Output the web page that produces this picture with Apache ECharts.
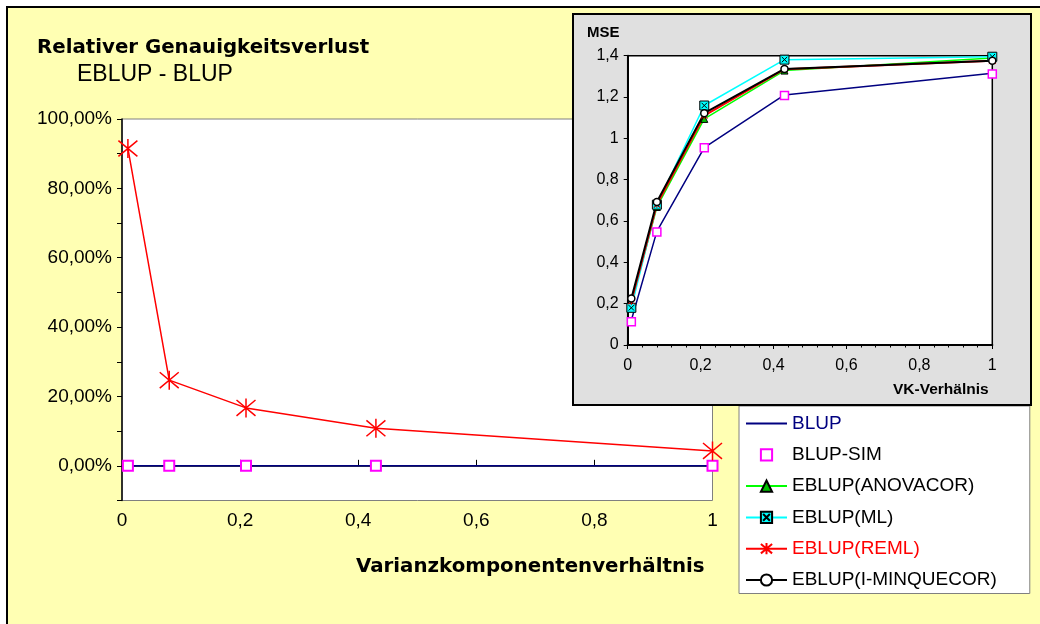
<!DOCTYPE html>
<head>
    <meta charset="utf-8">
    <title>Relativer Genauigkeitsverlust</title>
    <script src="https://cdn.jsdelivr.net/npm/echarts@6/dist/echarts.min.js"></script>
    <style>
        body { margin: 0; }
        #main { width: 1040px; height: 624px; }
    </style>
</head>
<body>
    <div id="main"></div>
    <script>
        // x values (Varianzkomponentenverhältnis)
        var vkRatio = [0.01, 0.08, 0.21, 0.43, 1];

        // main chart: relative loss EBLUP - BLUP in %
        var lossBlup = [0, 0, 0, 0, 0];
        var lossBlupSim = [0, 0, 0, 0, 0];
        var lossReml = [91.5, 24.7, 16.7, 10.8, 4.3];

        // inset: MSE
        var mseBlup = [0.12, 0.55, 0.955, 1.21, 1.315];
        var mseBlupSim = [0.112, 0.547, 0.954, 1.207, 1.312];
        var mseAnova = [0.2, 0.668, 1.094, 1.328, 1.389];
        var mseMl = [0.18, 0.679, 1.159, 1.381, 1.395];
        var mseReml = [0.21, 0.68, 1.11, 1.335, 1.375];
        var mseMinque = [0.225, 0.692, 1.122, 1.336, 1.376];

        var FONT = 'Liberation Sans, Arial, sans-serif';
        var WIDE = 'DejaVu Sans, Verdana, sans-serif';
        var starPath = 'path://M0,1L10,11M10,1L0,11M5,0L5,12';
        var mlPath = 'path://M0,0L10,0L10,10L0,10Z M2,2L8,8 M8,2L2,8';

        function pairs(xs, ys) {
            return xs.map(function (x, i) { return [x, ys[i]]; });
        }
        function deNum(v) {
            return String(Math.round(v * 10) / 10).replace('.', ',');
        }

        var myChart = echarts.init(document.getElementById('main'));

        var option = {
            animation: false,
            backgroundColor: '#fff',
            graphic: [
                {
                    type: 'rect', z: -10, silent: true,
                    shape: { x: 7, y: 7, width: 1100, height: 700 },
                    style: { fill: '#FFFFB3', stroke: '#000', lineWidth: 2 }
                },
                {
                    type: 'rect', z: 10, silent: true,
                    shape: { x: 573, y: 14, width: 458, height: 391 },
                    style: { fill: '#E0E0E0', stroke: '#000', lineWidth: 2 }
                }
            ],
            title: [
                { text: 'Relativer Genauigkeitsverlust', left: 37, top: 38, padding: 0,
                  textStyle: { fontFamily: WIDE, fontSize: 19.8, fontWeight: 'bold', color: '#000' } },
                { text: 'EBLUP - BLUP', left: 77, top: 63, padding: 0,
                  textStyle: { fontFamily: FONT, fontSize: 23, fontWeight: 'normal', color: '#000' } },
                { text: 'Varianzkomponentenverhältnis', left: 356, top: 557, padding: 0,
                  textStyle: { fontFamily: WIDE, fontSize: 19.8, fontWeight: 'bold', color: '#000' } },
                { text: 'MSE', left: 587, top: 25, padding: 0, z: 14,
                  textStyle: { fontFamily: FONT, fontSize: 15, fontWeight: 'bold', color: '#000' } },
                { text: 'VK-Verhälnis', left: 893, top: 382, padding: 0, z: 14,
                  textStyle: { fontFamily: FONT, fontSize: 15.5, fontWeight: 'bold', color: '#000' } }
            ],
            legend: {
                orient: 'vertical',
                left: 739, top: 406,
                padding: [8, 33, 4, 6],
                itemWidth: 41, itemHeight: 14, itemGap: 12.3,
                backgroundColor: '#fff', borderColor: '#808080', borderWidth: 1,
                textStyle: { fontFamily: FONT, fontSize: 19, color: '#000' },
                data: [
                    { name: 'BLUP', itemStyle: { opacity: 0 }, textStyle: { color: '#000080' } },
                    { name: 'BLUP-SIM' },
                    { name: 'EBLUP(ANOVACOR)' },
                    { name: 'EBLUP(ML)' },
                    { name: 'EBLUP(REML)', textStyle: { color: '#ff0000' } },
                    { name: 'EBLUP(I-MINQUECOR)' }
                ]
            },
            grid: [
                { left: 122, right: 327.5, top: 119, bottom: 123.5, show: true,
                  backgroundColor: '#fff', borderColor: '#808080', borderWidth: 1 },
                { left: 627.7, right: 47.7, top: 55.7, bottom: 279, show: true, z: 11,
                  backgroundColor: '#fff', borderColor: '#000', borderWidth: 1.5 }
            ],
            xAxis: [
                { type: 'value', gridIndex: 0, min: 0, max: 1, interval: 0.2, z: 1,
                  axisLine: { lineStyle: { color: '#000', width: 1.5 } },
                  axisTick: { inside: true, length: 6, lineStyle: { color: '#000' } },
                  axisLabel: { margin: 11, fontFamily: FONT, fontSize: 19, color: '#000', formatter: deNum },
                  splitLine: { show: false } },
                { type: 'value', gridIndex: 1, min: 0, max: 1, interval: 0.2, z: 12,
                  axisLine: { lineStyle: { color: '#000', width: 2 } },
                  axisTick: { length: 4, lineStyle: { color: '#000' } },
                  minorTick: { show: true, splitNumber: 5, length: 2.5, lineStyle: { color: '#000' } },
                  axisLabel: { margin: 13, fontFamily: FONT, fontSize: 16, color: '#000', formatter: deNum },
                  splitLine: { show: false } }
            ],
            yAxis: [
                { type: 'value', gridIndex: 0, min: -10, max: 100, interval: 10, z: 1,
                  axisLine: { show: true, lineStyle: { color: '#000', width: 1.5 } },
                  axisTick: { show: true, length: 5, lineStyle: { color: '#000' } },
                  axisLabel: { margin: 10, fontFamily: FONT, fontSize: 19, color: '#000',
                      formatter: function (v) {
                          return v % 20 === 0 ? v.toFixed(2).replace('.', ',') + '%' : '';
                      } },
                  splitLine: { show: false } },
                { type: 'value', gridIndex: 1, min: 0, max: 1.4, interval: 0.2, z: 12,
                  axisLine: { show: true, lineStyle: { color: '#000', width: 2 } },
                  axisTick: { show: true, length: 4, lineStyle: { color: '#000' } },
                  axisLabel: { margin: 9, fontFamily: FONT, fontSize: 16, color: '#000', formatter: deNum },
                  splitLine: { show: false } }
            ],
            series: [
                // main chart
                { name: 'BLUP', type: 'line', xAxisIndex: 0, yAxisIndex: 0, z: 2,
                  data: pairs(vkRatio, lossBlup), symbol: 'none',
                  lineStyle: { color: '#000080', width: 1.5 }, itemStyle: { color: '#000080' } },
                { name: 'BLUP-SIM', type: 'line', xAxisIndex: 0, yAxisIndex: 0, z: 3,
                  data: pairs(vkRatio, lossBlupSim), symbol: 'rect', symbolSize: 10,
                  lineStyle: { color: '#ff00ff', opacity: 0 },
                  itemStyle: { color: '#fff', borderColor: '#ff00ff', borderWidth: 2 } },
                { name: 'EBLUP(ANOVACOR)', type: 'line', xAxisIndex: 0, yAxisIndex: 0, z: 2,
                  data: [], symbol: 'triangle', symbolSize: 9,
                  lineStyle: { color: '#00ff00', width: 1.5 },
                  itemStyle: { color: '#00c000', borderColor: '#000', borderWidth: 1 } },
                { name: 'EBLUP(ML)', type: 'line', xAxisIndex: 0, yAxisIndex: 0, z: 2,
                  data: [], symbol: mlPath, symbolSize: 12,
                  lineStyle: { color: '#00ffff', width: 1.5 },
                  itemStyle: { color: '#00ffff', borderColor: '#000', borderWidth: 1.2 } },
                { name: 'EBLUP(REML)', type: 'line', xAxisIndex: 0, yAxisIndex: 0, z: 3,
                  data: pairs(vkRatio, lossReml), symbol: starPath, symbolSize: 19,
                  lineStyle: { color: '#ff0000', width: 1.5 },
                  itemStyle: { color: '#ff0000', borderColor: '#ff0000', borderWidth: 1.5 } },
                { name: 'EBLUP(I-MINQUECOR)', type: 'line', xAxisIndex: 0, yAxisIndex: 0, z: 2,
                  data: [], symbol: 'circle', symbolSize: 10,
                  lineStyle: { color: '#000', width: 1.5 },
                  itemStyle: { color: '#fff', borderColor: '#000', borderWidth: 1.5 } },

                // inset MSE chart
                { name: 'BLUP', type: 'line', xAxisIndex: 1, yAxisIndex: 1, z: 13,
                  data: pairs(vkRatio, mseBlup), symbol: 'none',
                  lineStyle: { color: '#000080', width: 1.5 } },
                { name: 'EBLUP(ANOVACOR)', type: 'line', xAxisIndex: 1, yAxisIndex: 1, z: 13,
                  data: pairs(vkRatio, mseAnova), symbol: 'triangle', symbolSize: 7,
                  lineStyle: { color: '#00ff00', width: 1.5 },
                  itemStyle: { color: '#00c000', borderColor: '#000', borderWidth: 1 } },
                { name: 'EBLUP(ML)', type: 'line', xAxisIndex: 1, yAxisIndex: 1, z: 13,
                  data: pairs(vkRatio, mseMl), symbol: mlPath, symbolSize: 9,
                  lineStyle: { color: '#00ffff', width: 1.5 },
                  itemStyle: { color: '#00ffff', borderColor: '#000', borderWidth: 1 } },
                { name: 'EBLUP(REML)', type: 'line', xAxisIndex: 1, yAxisIndex: 1, z: 13,
                  data: pairs(vkRatio, mseReml), symbol: starPath, symbolSize: 7,
                  lineStyle: { color: '#ff0000', width: 2 },
                  itemStyle: { color: '#ff0000', borderColor: '#ff0000', borderWidth: 1 } },
                { name: 'EBLUP(I-MINQUECOR)', type: 'line', xAxisIndex: 1, yAxisIndex: 1, z: 13,
                  data: pairs(vkRatio, mseMinque), symbol: 'circle', symbolSize: 7,
                  lineStyle: { color: '#000', width: 2 },
                  itemStyle: { color: '#fff', borderColor: '#000', borderWidth: 1.5 } },
                { name: 'BLUP-SIM', type: 'line', xAxisIndex: 1, yAxisIndex: 1, z: 13,
                  data: pairs(vkRatio, mseBlupSim), symbol: 'rect', symbolSize: 8,
                  lineStyle: { opacity: 0 },
                  itemStyle: { color: '#fff', borderColor: '#ff00ff', borderWidth: 1.5 } }
            ]
        };

        myChart.setOption(option);

        window.onresize = function () {
            myChart.resize();
        };
    </script>
</body>
